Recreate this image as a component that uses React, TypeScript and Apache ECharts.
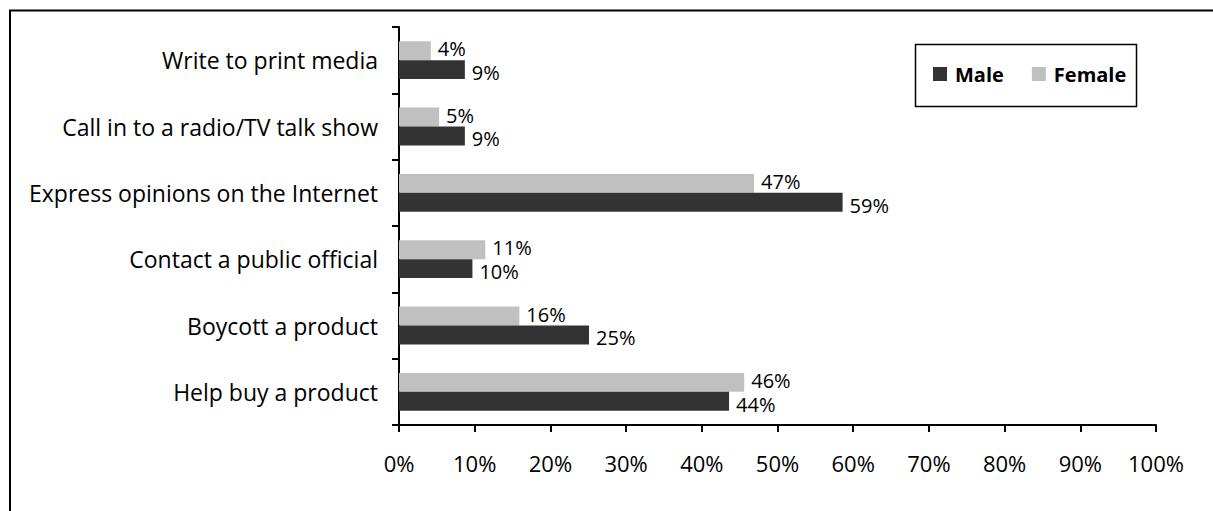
import React, { useEffect, useRef } from "react";
import * as echarts from "echarts";

const categories = [
  "Help buy a product",
  "Boycott a product",
  "Contact a public official",
  "Express opinions on the Internet",
  "Call in to a radio/TV talk show",
  "Write to print media",
];
const maleValues = [43.6, 25.1, 9.7, 58.6, 8.7, 8.7];
const femaleValues = [45.6, 15.9, 11.4, 46.9, 5.3, 4.2];
const legendNames = ["Male", "Female"];
const xTickMax = 100;
const xTickStep = 10;

const FONT = "'Open Sans', sans-serif";

export default function App() {
  const ref = useRef<HTMLDivElement>(null);
  useEffect(() => {
    if (!ref.current) return;
    const chart = echarts.init(ref.current, null, { renderer: "svg" });
    const labelStyle = (dy: number) => ({
      show: true,
      position: "right",
      distance: 7,
      offset: [0, dy],
      fontSize: 20,
      lineHeight: 20,
      color: "#000",
      fontFamily: FONT,
      formatter: (p: any) => Math.round(p.value) + "%",
    });
    chart.setOption({
      animation: false,
      backgroundColor: "#ffffff",
      textStyle: { fontFamily: FONT },
      grid: { left: 399, right: 57, top: 27, bottom: 86, containLabel: false },
      legend: {
        data: legendNames,
        left: 928,
        top: 59,
        itemWidth: 14,
        itemHeight: 14,
        itemGap: 28,
        icon: "rect",
        textStyle: { fontFamily: FONT, fontWeight: "bold", fontSize: 20, color: "#000", padding: [0, 0, 0, 3] },
      },
      xAxis: {
        type: "value",
        min: 0,
        max: xTickMax,
        interval: xTickStep,
        splitLine: { show: false },
        axisLine: { show: true, lineStyle: { color: "#000", width: 2 } },
        axisTick: { show: true, length: 7, lineStyle: { color: "#000", width: 2 } },
        axisLabel: { formatter: "{value}%", fontSize: 22, color: "#000", margin: 27, fontFamily: FONT },
      },
      yAxis: {
        type: "category",
        data: categories,
        axisLine: { show: true, lineStyle: { color: "#000", width: 2 } },
        axisTick: { show: true, length: 7, lineStyle: { color: "#000", width: 2 } },
        axisLabel: { fontSize: 23, color: "#000", margin: 21, fontFamily: FONT },
      },
      series: [
        {
          name: "Female",
          type: "bar",
          data: femaleValues,
          barGap: "0%",
          barCategoryGap: "43%",
          itemStyle: { color: "#c0c0c0" },
          label: labelStyle(-2),
        },
        {
          name: "Male",
          type: "bar",
          data: maleValues,
          barGap: "0%",
          barCategoryGap: "43%",
          itemStyle: { color: "#333333" },
          label: labelStyle(3),
        },
      ],
      graphic: [
        {
          type: "rect",
          z: -1,
          shape: { x: 10, y: 10.5, width: 1400, height: 700 },
          style: { fill: "none", stroke: "#000", lineWidth: 2 },
        },
        {
          type: "rect",
          z: -1,
          shape: { x: 915.5, y: 44.5, width: 221, height: 62 },
          style: { fill: "#fff", stroke: "#000", lineWidth: 1.5 },
        },
      ],
    });
    return () => chart.dispose();
  }, []);
  return (
    <div
      ref={ref}
      style={{ position: "fixed", left: 0, top: 0, width: 1213, height: 511 }}
    />
  );
}
